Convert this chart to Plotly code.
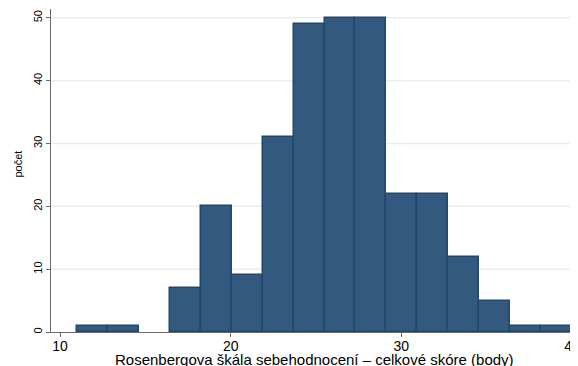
import plotly.graph_objects as go

# Histogram data (Stata-style: 16 bins from 11 to 40)
bin_start = 11.0
bin_end = 40.0
counts = [1, 1, 0, 7, 20, 9, 31, 49, 50, 50, 22, 22, 12, 5, 1, 1]
x_ticks = [10, 20, 30, 40]
y_ticks = [0, 10, 20, 30, 40, 50]
x_title = "Rosenbergova škála sebehodnocení – celkové skóre (body)"
y_title = "počet"

n_bins = len(counts)
bw = (bin_end - bin_start) / n_bins
centers = [bin_start + bw * (i + 0.5) for i in range(n_bins)]
line_widths = [1.5 if c > 0 else 0 for c in counts]

fig = go.Figure()
fig.add_trace(go.Bar(
    x=centers, y=counts, width=[bw] * n_bins,
    marker=dict(color="#335a7e", line=dict(color="#1d4870", width=line_widths)),
    hoverinfo="x+y",
))

# gridlines extending to the right edge like the reference
for v in y_ticks[1:]:
    fig.add_shape(type="line", xref="paper", yref="y", x0=0, x1=1.03, y0=v, y1=v,
                  line=dict(color="#e8eff2", width=1.5), layer="below")

# axis titles as annotations for precise placement
fig.add_annotation(text=x_title, xref="paper", yref="paper", x=0.5, y=0,
                   xanchor="center", yanchor="middle", xshift=3, yshift=-27.5,
                   showarrow=False, font=dict(size=15, color="black"))
fig.add_annotation(text=y_title, xref="paper", yref="paper", x=0, y=0.5,
                   xanchor="center", yanchor="middle", xshift=-34, yshift=6,
                   textangle=-90, showarrow=False, font=dict(size=11, color="black"))

fig.update_layout(
    width=578, height=366,
    margin=dict(l=43, r=14, t=1, b=42, autoexpand=False),
    paper_bgcolor="white", plot_bgcolor="white",
    font=dict(family="Arial, Liberation Sans, sans-serif", color="black"),
    showlegend=False, bargap=0,
)
fig.update_xaxes(
    range=[9.47, 40.001], tickvals=x_ticks, ticktext=[str(t) for t in x_ticks],
    showgrid=False, zeroline=False, showline=True, linecolor="#6a6a6a", linewidth=1,
    ticks="outside", ticklen=4, tickcolor="#6a6a6a", tickfont=dict(size=14),
    ticklabelstandoff=-3, automargin=False,
)
fig.update_yaxes(
    range=[0, 51.4], tickvals=y_ticks, ticktext=[str(t) for t in y_ticks],
    showgrid=False, zeroline=False, showline=True, linecolor="#6a6a6a", linewidth=1,
    ticks="outside", ticklen=4, tickcolor="#6a6a6a", tickfont=dict(size=11), tickangle=-90,
    automargin=False,
)

fig.write_html("out.html")
